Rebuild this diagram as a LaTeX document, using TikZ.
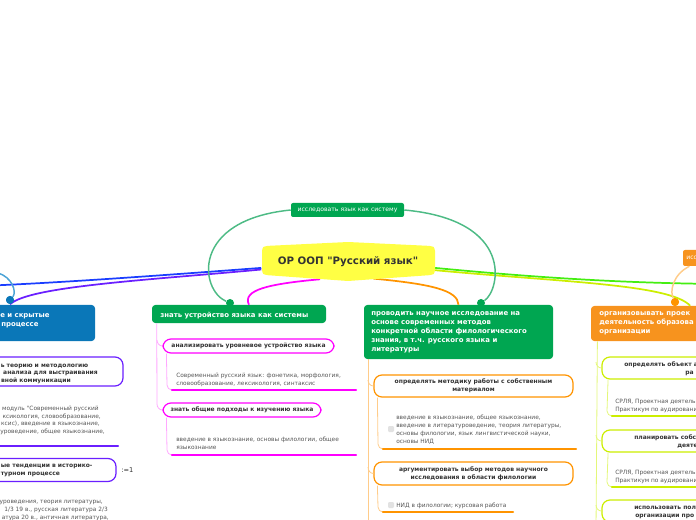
\documentclass[tikz,border=0pt]{standalone}
\usepackage{fontspec}
\setmainfont{DejaVu Sans}[Ligatures=TeXOff]

\definecolor{rooty}{HTML}{FFFF44}
\definecolor{txtdark}{HTML}{333333}
\definecolor{txtnote}{HTML}{555555}
\definecolor{grn}{HTML}{00A651}
\definecolor{grnl}{HTML}{4DBB85}
\definecolor{blubox}{HTML}{0A77B8}
\definecolor{blul}{HTML}{4BA3D6}
\definecolor{blln}{HTML}{1A3DFF}
\definecolor{purp}{HTML}{6A1FFF}
\definecolor{mag}{HTML}{FF00FF}
\definecolor{magl}{HTML}{FFA8FF}
\definecolor{orn}{HTML}{FF9400}
\definecolor{ornbox}{HTML}{F7931E}
\definecolor{ornl}{HTML}{FFCC8A}
\definecolor{lime}{HTML}{44EE11}
\definecolor{ylg}{HTML}{CCEE00}
\definecolor{ylgl}{HTML}{E4F77A}
\definecolor{chk}{HTML}{E2E2E2}

\tikzset{
  wh/.style 2 args={minimum width=#1*0.75pt, minimum height=#2*0.75pt},
  topic/.style={rounded corners=2.5pt, inner sep=0pt},
  toptext/.style={text=white, inner sep=0pt, align=left, font=\bfseries\fontsize{5.2}{6.8}\selectfont},
  sub/.style={draw=#1, fill=white, line width=0.9pt, rounded corners=6pt, inner sep=0pt},
  subtext/.style={text=txtdark, inner sep=0pt, align=center, font=\bfseries\fontsize{4.5}{6}\selectfont},
  note/.style={text=txtnote, inner sep=0pt, align=left, font=\fontsize{4.4}{6}\selectfont},
  knob/.style={circle, fill=#1, inner sep=0pt, minimum size=6pt},
  branch/.style={line width=1.3pt},
  twig/.style={line width=0.6pt},
  bar/.style={line width=1.8pt, line cap=round},
  tick/.style={fill=chk, rounded corners=0.8pt, inner sep=0pt, minimum size=4.5pt}
}

\begin{document}
\begin{tikzpicture}[x=0.75pt,y=-0.75pt]
\useasboundingbox (0,0) rectangle (696,520);
\clip (0,0) rectangle (696,520);

%root of the map
\node (root) [wh={173}{39}, inner sep=0pt] at (348,261.5) {};
\coordinate (offl) at (-20,286);
\coordinate (offr) at (720,284);

%branches leaving the root
\draw[branch, blln] ([yshift=-4.8pt]root.west) .. controls (180,274) and (60,283) .. (offl);
\draw[branch, lime] ([yshift=-4.8pt]root.east) .. controls (520,276) and (610,283) .. (offr);

%topic dots
\node (d1) [knob=blubox] at (10,300) {};
\node (d2) [knob=grn] at (230,303) {};
\node (d3) [knob=grn] at (481,303) {};
\node (d4) [knob=orn] at (675,302) {};

%topics
\node (t1) [topic, fill=blubox, wh={165}{36}] at (12.5,323) {};
\node (t2) [topic, fill=grn, wh={174}{18}] at (239,314) {};
\node (t3) [topic, fill=grn, wh={189}{54}] at (458.5,332) {};
\node (t4) [topic, fill=ornbox, wh={189}{35}] at (685.5,323.5) {};

\draw[branch, purp] ([yshift=-6pt]root.west) .. controls (150,280) and (30,286) .. (d1.south);
\draw[branch, mag] ([xshift=-21pt,yshift=1.5pt]root.south) .. controls (268,284) and (242,290) .. ([xshift=7.5pt]t2.north);
\draw[branch, orn] ([xshift=19pt,yshift=2pt]root.south) .. controls (430,284) and (458,290) .. (t3.north);
\draw[branch, ylg] ([yshift=-6.5pt]root.east) .. controls (560,282) and (670,284) .. ([xshift=3.5pt]t4.north);

%root shape and title
\fill[rooty, rounded corners=2pt] (262,248) -- (265,246) -- (348,242) -- (432,246) -- (435,248)
  -- (435,273) -- (432,275) -- (348,281) -- (265,275) -- (262,273) -- cycle;
\node (title) [text=txtdark, font=\bfseries\fontsize{7.7}{9}\selectfont] at (root) {ОР ООП "Русский язык"};

%floating labels
\node (lab) [topic, rounded corners=1.5pt, fill=grn, wh={113}{14}, text=white, font=\fontsize{4.6}{5}\selectfont] at (347.5,210) {исследовать язык как систему};
\draw[twig, line width=1.1pt, grnl] (lab.west) .. controls (190,220) and (200,290) .. (d2);
\draw[twig, line width=1.1pt, grnl] (lab.east) .. controls (515,220) and (500,290) .. (d3);
\node (lab2) [topic, rounded corners=1.5pt, fill=ornbox, wh={60}{16}] at (713,258) {};
\node (lab2t) [anchor=base west, text=white, inner sep=0pt, font=\fontsize{4.6}{5}\selectfont] at (686,260) {исс};
\draw[twig, line width=1.1pt, ornl] ([xshift=5pt]lab2.south west) .. controls (672,275) and (670,292) .. (d4);
\draw[twig, line width=1.1pt, blul] (-2,273) .. controls (12,277) and (17,292) .. (d1);
\node (d1b) [knob=blubox] at (d1) {};
\node (d4b) [knob=orn] at (d4) {};

%topic texts
\node (t1a) [toptext, anchor=base west] at (0,317) {е и скрытые};
\node (t1b) [toptext, anchor=base west] at (1,326) {процессе};
\node (t2t) [toptext, anchor=base west] at (160,317) {знать устройство языка как системы};
\node (t3t) [toptext, anchor=north west] at (371,311) {проводить научное исследование на\\основе современных методов\\конкретной области филологического\\знания, в т.ч. русского языка и\\литературы};
\node (t4t) [toptext, anchor=north west] at (599,311) {организовывать проек\\деятельность образова\\организации};

%left topic children
\node (c11) [sub=purp, wh={223}{29}] at (11.5,371.5) {};
\node (c11a) [subtext, anchor=base west] at (0.5,367) {ь теорию и методологию};
\node (c11b) [subtext, anchor=base east] at (98,374.5) {анализа для выстраивания};
\node (c11c) [subtext, anchor=base east] at (71,382) {вной коммуникации};
\node (n11a) [note, anchor=base east] at (99,410) {модуль "Современный русский};
\node (n11b) [note, anchor=base east] at (101,418) {ксикология, словообразование,};
\node (n11c) [note, anchor=base east] at (100,425.5) {ксис), введение в языкознание,};
\node (n11d) [note, anchor=base east] at (105,433.5) {уроведение, общее языкознание,};
\draw[bar, purp] (-5,446) -- (118,446);
\node (c12) [sub=purp, wh={216}{23}] at (8,470) {};
\node (c12a) [subtext, anchor=base west] at (0.5,467.5) {ые тенденции в историко-};
\node (c12b) [subtext, anchor=base west] at (0.5,475.5) {турном процессе};
\node (c12x) [note, text=txtdark, font=\fontsize{5}{6}\selectfont, anchor=base west] at (121,472) {:=1};
\node (n12a) [note, anchor=base east] at (103,503.5) {уроведения, теория литературы,};
\node (n12b) [note, anchor=base east] at (108,511.5) {1/3 19 в., русская литература 2/3};
\node (n12c) [note, anchor=base east] at (109,519.5) {атура 20 в., античная литература,};

%magenta children
\node (c21) [sub=mag, wh={171}{14}] at (248.5,346) {};
\node (c22) [sub=mag, wh={158}{14}] at (242,410) {};
\draw[twig, magl] (t2.south west) ++(5,0) -- (157,404) to[out=-90,in=180] (c22.west);
\draw[twig, magl] (157,340) to[out=-90,in=180] (c21.west);
\node (c21t) [subtext] at (c21) {анализировать уровневое устройство языка};
\node (c22t) [subtext] at (c22) {знать общие подходы к изучению языка};
\node (n21) [note, anchor=base west] at (176,385) {Современный русский язык: фонетика, морфология,\\словообразование, лексикология, синтаксис};
\node (n22) [note, anchor=base west] at (176,449) {введение в языкознание, основы филологии, общее\\языкознание};
\draw[twig, magl] ([xshift=3pt]c21.south west) -- (167,385) to[out=-90,in=180] (172,390);
\draw[twig, magl] ([xshift=3pt]c22.south west) -- (167,450) to[out=-90,in=180] (172,455);
\draw[bar, mag] (172,390) -- (356,390);
\draw[bar, mag] (172,455) -- (356,455);

%orange children
\node (c31) [sub=orn, wh={199}{22}] at (473.5,386) {};
\node (c32) [sub=orn, wh={199}{23}] at (473.5,473.5) {};
\draw[twig, ornl] (368,359) -- (368,530);
\draw[twig, ornl] (368,380) to[out=-90,in=180] (c31.west);
\draw[twig, ornl] (368,467) to[out=-90,in=180] (c32.west);
\node (c31t) [subtext] at (c31) {определять методику работы с собственным\\материалом};
\node (c32t) [subtext] at (c32) {аргументировать выбор методов научного\\исследования в области филологии};
\node (k31) [tick] at (391,429) {};
\node (k32) [tick] at (391,505) {};
\node (n31) [note, anchor=base west] at (396,443.5) {введение в языкознание, общее языкознание,\\введение в литературоведение, теория литературы,\\основы филологии, язык  лингвистической науки,\\основы НИД};
\node (n32) [note, anchor=base west] at (396,507) {НИД в филологии; курсовая работа};
\draw[twig, ornl] ([xshift=3pt]c31.south west) -- (378,444) to[out=-90,in=180] (383,449);
\draw[twig, ornl] ([xshift=3pt]c32.south west) -- (378,507) to[out=-90,in=180] (383,512);
\draw[bar, orn] (383,449) -- (576,449);
\draw[bar, orn] (383,512) -- (513,512);

%yellow-green children
\node (c41) [sub=ylg, wh={158}{22}] at (681,368) {};
\node (c42) [sub=ylg, wh={158}{22}] at (681,441) {};
\node (c43) [sub=ylg, wh={158}{22}] at (681,511) {};
\draw[twig, ylgl] ([xshift=5pt]t4.south west) -- (596,530);
\draw[twig, ylgl] (596,362) to[out=-90,in=180] (c41.west);
\draw[twig, ylgl] (596,435) to[out=-90,in=180] (c42.west);
\draw[twig, ylgl] (596,505) to[out=-90,in=180] (c43.west);
\node (c41a) [subtext, anchor=base west] at (624,366) {определять объект а};
\node (c41b) [subtext, anchor=base west] at (685,374) {ра};
\node (c42a) [subtext, anchor=base west] at (634,439) {планировать собс};
\node (c42b) [subtext, anchor=base west] at (677,447) {деяте};
\node (c43a) [subtext, anchor=base west] at (634,509) {использовать пол};
\node (c43b) [subtext, anchor=base west] at (635,517) {организации про};
\node (n41) [note, anchor=base west] at (615,411) {СРЛЯ, Проектная деятель\\Практикум по аудировани};
\node (n42) [note, anchor=base west] at (615,482) {СРЛЯ, Проектная деятель\\Практикум по аудировани};
\draw[twig, ylgl] ([xshift=5pt]c41.south west) -- (607,411) to[out=-90,in=180] (612,416);
\draw[twig, ylgl] ([xshift=5pt]c42.south west) -- (607,482) to[out=-90,in=180] (612,487);
\draw[bar, ylg] (612,416) -- (700,416);
\draw[bar, ylg] (612,487) -- (700,487);

\end{tikzpicture}
\end{document}
